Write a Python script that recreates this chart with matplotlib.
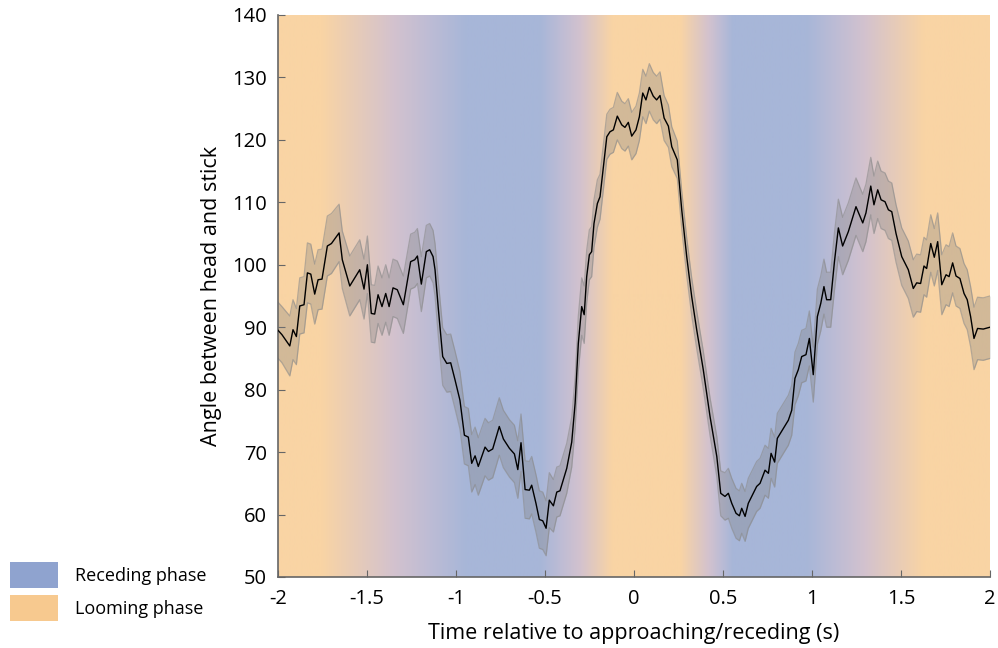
import numpy as np
import matplotlib.pyplot as plt
from matplotlib.patches import Patch
from matplotlib.colors import LinearSegmentedColormap

plt.rcParams['font.family'] = ['Open Sans', 'DejaVu Sans']

# mean angle trace (time in s, angle in deg)
t = [-2.000, -1.978, -1.934, -1.916, -1.897, -1.878, -1.854, -1.835, -1.816, -1.794,
     -1.775, -1.753, -1.723, -1.700, -1.657, -1.639, -1.597, -1.541, -1.517, -1.498,
     -1.476, -1.457, -1.438, -1.416, -1.395, -1.376, -1.354, -1.330, -1.296, -1.255,
     -1.232, -1.217, -1.195, -1.167, -1.148, -1.129, -1.118, -1.099, -1.075, -1.052,
     -1.030, -1.006, -0.978, -0.953, -0.931, -0.912, -0.893, -0.875, -0.837, -0.818,
     -0.794, -0.757, -0.734, -0.700, -0.672, -0.653, -0.635, -0.612, -0.588, -0.575,
     -0.551, -0.532, -0.513, -0.494, -0.476, -0.453, -0.434, -0.416, -0.378, -0.350,
     -0.331, -0.313, -0.294, -0.280, -0.266, -0.251, -0.238, -0.225, -0.206, -0.191,
     -0.172, -0.153, -0.135, -0.116, -0.094, -0.069, -0.051, -0.032, -0.013, 0.011,
     0.030, 0.049, 0.067, 0.086, 0.108, 0.127, 0.146, 0.169, 0.193, 0.212,
     0.243, 0.268, 0.296, 0.324, 0.352, 0.389, 0.427, 0.465, 0.487, 0.511,
     0.530, 0.549, 0.573, 0.592, 0.605, 0.624, 0.642, 0.689, 0.708, 0.736,
     0.755, 0.770, 0.790, 0.805, 0.839, 0.867, 0.886, 0.904, 0.923, 0.942,
     0.966, 0.985, 1.007, 1.030, 1.049, 1.067, 1.082, 1.105, 1.126, 1.148,
     1.172, 1.204, 1.247, 1.285, 1.303, 1.330, 1.348, 1.369, 1.388, 1.410,
     1.429, 1.448, 1.472, 1.504, 1.541, 1.569, 1.588, 1.610, 1.629, 1.644,
     1.667, 1.687, 1.706, 1.729, 1.753, 1.770, 1.790, 1.809, 1.831, 1.854,
     1.872, 1.891, 1.910, 1.930, 1.962, 2.000]
angle = [89.5, 88.8, 87.0, 89.6, 88.5, 93.4, 93.6, 98.7, 98.5, 95.3,
         97.6, 97.7, 103.0, 103.4, 105.1, 100.8, 96.6, 99.2, 96.1, 100.0,
         92.2, 92.1, 95.2, 93.3, 95.4, 93.3, 96.3, 96.0, 93.6, 100.5,
         100.8, 101.4, 96.9, 102.1, 102.4, 101.3, 99.2, 92.8, 85.3, 84.2,
         84.3, 81.6, 78.3, 72.7, 72.4, 68.2, 69.4, 67.7, 70.8, 70.1,
         70.5, 74.1, 72.1, 70.6, 69.7, 67.2, 71.5, 64.0, 63.9, 64.7,
         61.8, 59.2, 59.0, 57.8, 62.3, 61.4, 63.6, 63.8, 67.4, 71.6,
         77.8, 87.4, 93.3, 92.0, 98.1, 101.6, 102.1, 106.6, 109.8, 110.9,
         115.7, 120.5, 121.3, 121.6, 123.8, 122.4, 122.0, 122.8, 120.6, 121.6,
         123.7, 127.5, 126.4, 128.4, 127.0, 126.4, 127.1, 123.5, 122.2, 118.9,
         116.8, 108.8, 101.3, 94.9, 89.6, 83.2, 75.7, 69.3, 63.4, 62.9,
         63.4, 61.8, 60.2, 59.8, 61.0, 59.7, 61.8, 64.5, 65.0, 67.1,
         66.6, 69.8, 68.4, 72.2, 73.8, 75.1, 76.7, 81.8, 83.2, 85.3,
         85.6, 88.2, 82.4, 91.7, 93.8, 96.5, 94.4, 94.4, 100.5, 105.9,
         103.0, 105.3, 109.3, 106.7, 108.3, 112.6, 109.6, 112.0, 110.4, 110.1,
         108.8, 108.5, 105.0, 101.3, 99.2, 96.2, 97.1, 97.0, 99.8, 99.4,
         103.4, 101.2, 103.7, 96.8, 98.4, 98.1, 100.3, 98.2, 97.8, 95.4,
         94.4, 91.7, 88.2, 89.8, 89.7, 90.0]
# half width of the shaded error band
sem = [4.5, 4.5, 4.8, 4.8, 4.5, 4.5, 4.5, 4.8, 4.8, 4.8,
       4.8, 4.8, 4.8, 4.8, 4.6, 4.6, 4.8, 4.8, 4.8, 4.6,
       4.6, 4.6, 4.6, 4.6, 4.6, 4.6, 4.6, 4.6, 4.6, 4.4,
       4.4, 4.4, 4.4, 4.2, 4.2, 4.2, 4.2, 4.4, 4.6, 4.6,
       4.6, 4.6, 4.6, 4.6, 4.6, 4.6, 4.6, 4.6, 4.6, 4.6,
       4.6, 4.6, 4.6, 4.6, 4.6, 4.6, 4.6, 4.6, 4.6, 4.6,
       4.6, 4.6, 4.6, 4.4, 4.4, 4.2, 4.0, 4.0, 4.0, 4.0,
       4.0, 4.4, 4.6, 4.6, 4.2, 4.0, 4.0, 3.8, 3.8, 3.6,
       3.6, 3.6, 3.6, 3.6, 3.8, 3.8, 3.8, 3.8, 3.8, 3.8,
       3.8, 3.8, 3.8, 3.8, 3.8, 3.8, 3.8, 3.6, 3.4, 3.2,
       3.0, 3.0, 3.0, 3.0, 3.0, 3.0, 3.0, 3.2, 3.6, 3.8,
       4.0, 4.0, 4.0, 4.0, 4.0, 4.0, 4.0, 4.0, 4.0, 4.0,
       4.0, 4.0, 4.0, 4.0, 4.0, 4.0, 4.0, 4.2, 4.2, 4.2,
       4.2, 4.4, 4.4, 4.4, 4.4, 4.4, 4.4, 4.4, 4.6, 4.6,
       4.6, 4.6, 4.6, 4.6, 4.6, 4.6, 4.6, 4.6, 4.6, 4.6,
       4.6, 4.6, 4.6, 4.6, 4.6, 4.6, 4.6, 4.6, 4.6, 4.6,
       4.6, 4.6, 4.6, 4.8, 4.8, 4.8, 4.8, 4.8, 4.8, 4.8,
       4.8, 4.8, 5.0, 5.0, 5.0, 5.0]

# background phase: 0 = looming, 1 = receding (ramps between stops)
phase_t = [-2.0, -1.76, -1.35, -0.94, -0.53, -0.30, -0.12, 0.26, 0.42, 0.556, 0.97, 1.30, 1.635, 2.0]
phase_w = [0, 0, 0.5, 1, 1, 0.5, 0, 0, 0.5, 1, 1, 0.5, 0, 0]

loom_bg = '#F9D4A4'
mid_bg = '#D3C2CE'
rec_bg = '#A7B6D8'
loom_legend = '#F7C98F'
rec_legend = '#8FA3CF'

t = np.array(t)
angle = np.array(angle)
sem = np.array(sem)

fig = plt.figure(figsize=(9.98, 6.48), dpi=100)
ax = fig.add_axes([0.2786, 0.1096, 0.7134, 0.8673])

# gradient background
phase_cmap = LinearSegmentedColormap.from_list('phase', [(0, loom_bg), (0.5, mid_bg), (0.75, '#BDBCD5'), (1, rec_bg)])
xs = np.linspace(-2, 2, 800)
w = np.interp(xs, phase_t, phase_w)
ax.imshow(w[None, :], cmap=phase_cmap, vmin=0, vmax=1,
          extent=[-2, 2, 50, 140], aspect='auto', zorder=0)

ax.fill_between(t, angle - sem, angle + sem, color='#808080', alpha=0.32, lw=0, zorder=2)
ax.plot(t, angle - sem, color='#8a8a8a', lw=0.9, alpha=0.6, zorder=2)
ax.plot(t, angle + sem, color='#8a8a8a', lw=0.9, alpha=0.6, zorder=2)
ax.plot(t, angle, color='black', lw=1.0, zorder=3)

ax.set_xlim(-2, 2)
ax.set_ylim(50, 140)
ax.set_xticks([-2, -1.5, -1, -0.5, 0, 0.5, 1, 1.5, 2])
ax.set_xticklabels(['-2', '-1.5', '-1', '-0.5', '0', '0.5', '1', '1.5', '2'])
ax.set_yticks(np.arange(50, 141, 10))
ax.tick_params(direction='in', length=5, color='#666666', labelsize=14.5)
ax.tick_params(axis='x', pad=9)
ax.tick_params(axis='y', pad=8)
for s in ['top', 'right']:
    ax.spines[s].set_visible(False)
for s in ['left', 'bottom']:
    ax.spines[s].set_color('#666666')
    ax.spines[s].set_linewidth(1.2)

ax.set_xlabel('Time relative to approaching/receding (s)', fontsize=15.5, labelpad=10)
ax.set_ylabel('Angle between head and stick', fontsize=15.5, labelpad=7)

handles = [Patch(facecolor=rec_legend, edgecolor='none', label='Receding phase'),
           Patch(facecolor=loom_legend, edgecolor='none', label='Looming phase')]
fig.legend(handles=handles, loc='upper left', bbox_to_anchor=(0.010, 0.1327),
           frameon=False, fontsize=13, handlelength=2.67, handleheight=1.85,
           labelspacing=0.38, handletextpad=0.95, borderpad=0, borderaxespad=0)

fig.savefig('out.png', dpi=100)
